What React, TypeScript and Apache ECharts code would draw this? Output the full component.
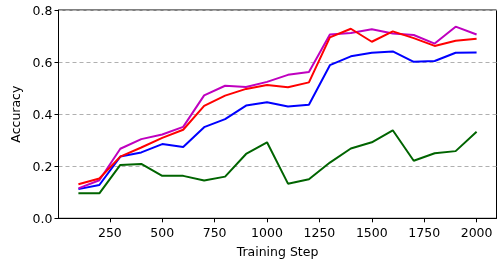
import React, { useEffect, useRef } from "react";
import * as echarts from "echarts";

const steps = [100, 200, 300, 400, 500, 600, 700, 800, 900, 1000, 1100, 1200, 1300, 1400, 1500, 1600, 1700, 1800, 1900, 2000];
const magentaVals = [0.115, 0.146, 0.267, 0.304, 0.322, 0.351, 0.472, 0.509, 0.504, 0.524, 0.551, 0.562, 0.706, 0.712, 0.726, 0.71, 0.704, 0.671, 0.736, 0.706];
const redVals = [0.131, 0.153, 0.237, 0.272, 0.309, 0.34, 0.432, 0.471, 0.497, 0.512, 0.503, 0.522, 0.695, 0.728, 0.678, 0.718, 0.692, 0.662, 0.682, 0.69];
const blueVals = [0.112, 0.128, 0.237, 0.253, 0.285, 0.274, 0.35, 0.381, 0.433, 0.446, 0.429, 0.436, 0.588, 0.622, 0.636, 0.641, 0.601, 0.604, 0.636, 0.637];
const greenVals = [0.096, 0.096, 0.205, 0.209, 0.163, 0.163, 0.145, 0.16, 0.247, 0.292, 0.133, 0.15, 0.214, 0.268, 0.292, 0.338, 0.221, 0.25, 0.258, 0.332];
const xTicks = [250, 500, 750, 1000, 1250, 1500, 1750, 2000];
const yTicks = [0, 0.2, 0.4, 0.6, 0.8];

const FONT = "DejaVu Sans";

export default function App() {
  const ref = useRef<HTMLDivElement>(null);
  useEffect(() => {
    if (!ref.current) return;
    const chart = echarts.init(ref.current, null, { renderer: "svg" });
    const mk = (name: string, vals: number[], color: string) => ({
      name,
      type: "line",
      data: steps.map((s, i) => [s, vals[i]]),
      showSymbol: false,
      symbol: "none",
      lineStyle: { color, width: 2 },
      itemStyle: { color },
    });
    chart.setOption({
      animation: false,
      grid: {
        left: 58.5,
        right: 0.5,
        top: 10,
        bottom: 46.7,
        show: true,
        borderColor: "#000",
        borderWidth: 1,
        backgroundColor: "transparent",
      },
      xAxis: {
        type: "value",
        min: 5,
        max: 2095,
        name: "Training Step",
        nameLocation: "middle",
        nameGap: 27,
        nameTextStyle: { fontFamily: FONT, fontSize: 12.5, color: "#000" },
        axisLine: { show: true, lineStyle: { color: "#000", width: 1 } },
        axisTick: { show: true, length: 4, lineStyle: { color: "#000" }, customValues: xTicks },
        axisLabel: {
          fontFamily: FONT,
          fontSize: 12.5,
          color: "#000",
          margin: 8,
          customValues: xTicks,
          formatter: (v: number) => String(Math.round(v)),
        },
        splitLine: { show: false },
      },
      yAxis: {
        type: "value",
        min: 0,
        max: 0.8,
        interval: 0.2,
        name: "Accuracy",
        nameLocation: "middle",
        nameGap: 35,
        nameTextStyle: { fontFamily: FONT, fontSize: 12.5, color: "#000" },
        axisLine: { show: true, lineStyle: { color: "#000", width: 1 } },
        axisTick: { show: true, length: 4, lineStyle: { color: "#000" } },
        axisLabel: {
          fontFamily: FONT,
          fontSize: 12.5,
          color: "#000",
          margin: 6,
          formatter: (v: number) => (yTicks.some((t) => Math.abs(t - v) < 1e-9) ? v.toFixed(1) : ""),
        },
        splitLine: { show: true, lineStyle: { color: "#b0b0b0", type: [4, 3], width: 1 } },
      },
      series: [
        mk("green", greenVals, "#006400"),
        mk("blue", blueVals, "#0000ff"),
        mk("magenta", magentaVals, "#bf00bf"),
        mk("red", redVals, "#ff0000"),
      ],
    });
    return () => chart.dispose();
  }, []);
  return <div ref={ref} style={{ position: "fixed", left: 0, top: 0, width: 497, height: 265 }} />;
}
